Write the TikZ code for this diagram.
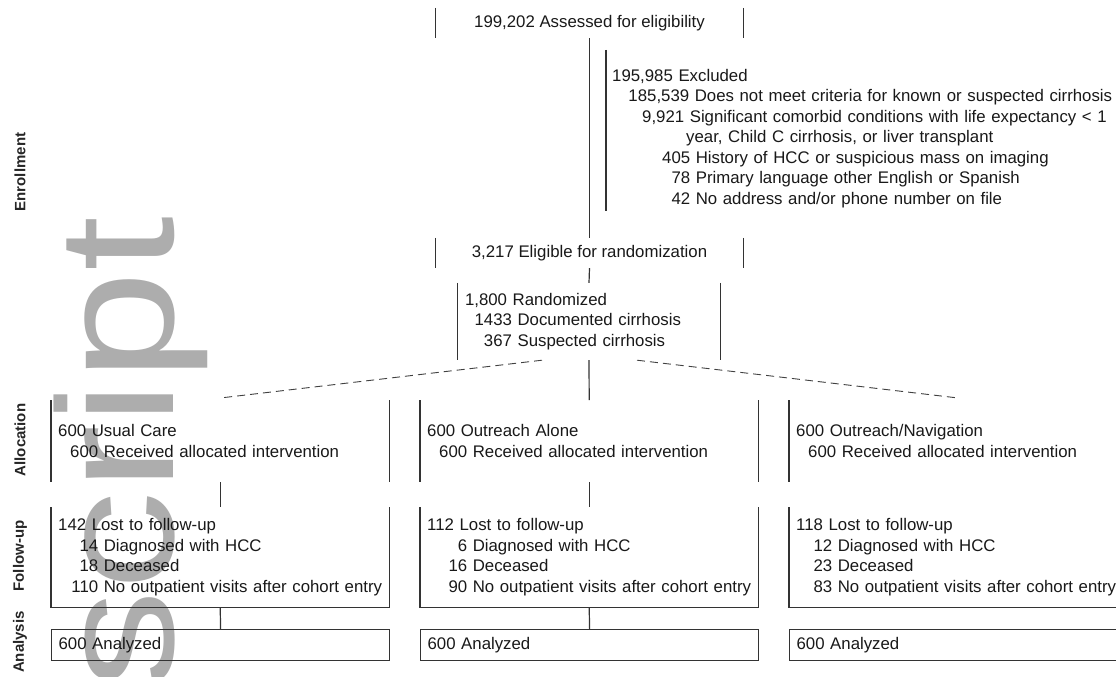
\documentclass[tikz,border=0pt]{standalone}
\usepackage{fontspec}
\setmainfont{Liberation Sans}
\newcommand{\nrow}[3][40pt]{\makebox[#1][r]{#2}\ #3}
\newcommand{\boxlines}[1]{\begin{tabular}{@{}l@{}}#1\end{tabular}}
\tikzset{
  txt/.style={font=\fontsize{16.8}{20.5}\selectfont,text=black!90},
  stage/.style={txt,inner xsep=7pt,inner ysep=0pt,text width=324pt,align=left,anchor=north west,minimum width=338pt},
  head/.style={txt,inner sep=0pt,minimum width=307pt,minimum height=30pt},
  sect/.style={font=\bfseries\fontsize{15}{18}\selectfont,rotate=90,text=black!85},
  bar/.style={black!80,line width=1.2pt},
  wmark/.style={font=\fontsize{165}{165}\selectfont,text=black!32,rotate=90,anchor=base west,inner sep=0pt}
}
\begin{document}
\begin{tikzpicture}[x=1pt,y=-1pt]
\clip (0,0) rectangle (1116,677);
\fill[white] (0,0) rectangle (1116,677);
\node[wmark] (wm) at (173,690) {\scalebox{1.2}[1]{script}};
% stage labels
\node[sect] (lenr) at (20,172) {Enrollment};
\node[sect] (lall) at (20,440) {Allocation};
\node[sect] (lfol) at (20,556) {Follow-up};
\node[sect] (lana) at (20,642) {Analysis};
% enrollment
\node[head] (assess) at (589.5,23) {199,202 Assessed for eligibility};
\node[txt,anchor=north west,inner xsep=6pt,inner ysep=0pt,text width=520pt,align=left] (excl) at (606,66.6)
  {\boxlines{195,985 Excluded\\
   \nrow[77pt]{185,539}{Does not meet criteria for known or suspected cirrhosis}\\
   \nrow[72pt]{9,921}{Significant comorbid conditions with life expectancy < 1}\\
   \hspace*{74pt}year, Child C cirrhosis, or liver transplant\\
   \nrow[78pt]{405}{History of HCC or suspicious mass on imaging}\\
   \nrow[78pt]{78}{Primary language other English or Spanish}\\
   \nrow[78pt]{42}{No address and/or phone number on file}}};
\node[head] (elig) at (589.5,253) {3,217 Eligible for randomization};
\node[stage,minimum width=262pt,text width=248pt,minimum height=77pt,anchor=center] (rand) at (589,321.5)
  {\boxlines{1,800 Randomized\\\nrow[47pt]{1433}{Documented cirrhosis}\\\nrow[47pt]{367}{Suspected cirrhosis}}};
% allocation
\node[stage,minimum height=82pt] (alloc1) at (51,400) {\boxlines{\rule{0pt}{18pt}600 Usual Care\\\nrow{600}{Received allocated intervention}}};
\node[stage,minimum height=82pt] (alloc2) at (420,400) {\boxlines{\rule{0pt}{18pt}600 Outreach Alone\\\nrow{600}{Received allocated intervention}}};
\node[stage,minimum height=82pt] (alloc3) at (789,400) {\boxlines{\rule{0pt}{18pt}600 Outreach/Navigation\\\nrow{600}{Received allocated intervention}}};
% follow-up
\node[stage,minimum height=100pt] (fu1) at (51,507)
  {\boxlines{142 Lost to follow-up\\\nrow{14}{Diagnosed with HCC}\\\nrow{18}{Deceased}\\\nrow{110}{No outpatient visits after cohort entry}}};
\node[stage,minimum height=100pt] (fu2) at (420,507)
  {\boxlines{112 Lost to follow-up\\\nrow{6}{Diagnosed with HCC}\\\nrow{16}{Deceased}\\\nrow{90}{No outpatient visits after cohort entry}}};
\node[stage,minimum height=100pt] (fu3) at (789,507)
  {\boxlines{118 Lost to follow-up\\\nrow[36pt]{12}{Diagnosed with HCC}\\\nrow[36pt]{23}{Deceased}\\\nrow[36pt]{83}{No outpatient visits after cohort entry}}};
% analysis
\node[stage,minimum height=31pt,draw=black!80,line width=1.2pt] (an1) at (51,629) {600 Analyzed};
\node[stage,minimum height=31pt,draw=black!80,line width=1.2pt] (an2) at (420,629) {600 Analyzed};
\node[stage,minimum height=31pt,draw=black!80,line width=1.2pt] (an3) at (789,629) {600 Analyzed};
% box sides
\foreach \n in {assess,elig,rand,alloc1,alloc2,alloc3}
  \draw[bar] (\n.north west) -- (\n.south west) (\n.north east) -- (\n.south east);
\foreach \n in {fu1,fu2,fu3}
  \draw[bar] (\n.north west) -- (\n.south west) -- (\n.south east) -- (\n.north east);
\draw[bar] ([yshift=16.6pt]excl.north west) -- (excl.south west);
% connectors
\draw[bar] (assess.south) -- (elig.north);
\draw[bar] (elig.south) -- (rand.north);
\draw[bar] (rand.south) -- (alloc2.north);
\coordinate (dl) at ([xshift=-47pt]rand.south);
\coordinate (dr) at ([xshift=48pt]rand.south);
\draw[black!75,line width=0.9pt,dash pattern=on 8pt off 5pt] (dl) -- ([yshift=2pt]alloc1.north);
\draw[black!75,line width=0.9pt,dash pattern=on 8pt off 5pt] (dr) -- ([yshift=2pt]alloc3.north);
\draw[bar] (alloc1.south) -- (fu1.north);
\draw[bar] (alloc2.south) -- (fu2.north);
\draw[bar] (fu1.south) -- (an1.north);
\draw[bar] (fu2.south) -- (an2.north);
\end{tikzpicture}
\end{document}
